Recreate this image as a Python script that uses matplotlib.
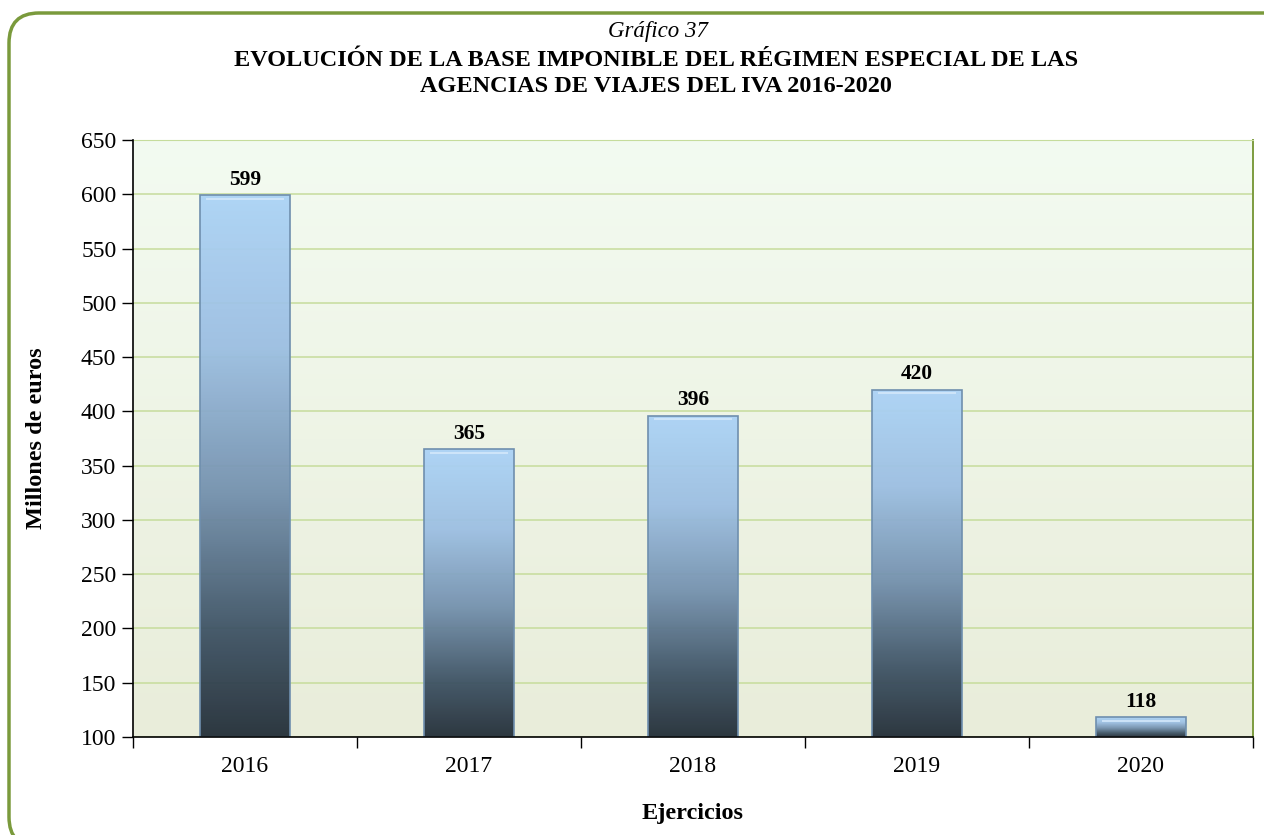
import matplotlib
matplotlib.use("Agg")
import matplotlib.pyplot as plt
import numpy as np
from matplotlib.colors import LinearSegmentedColormap
from matplotlib.patches import FancyBboxPatch

# datos del gráfico
years = ["2016", "2017", "2018", "2019", "2020"]
base = [599, 365, 396, 420, 118]

plt.rcParams['font.family'] = ['Liberation Serif', 'DejaVu Serif']

fig = plt.figure(figsize=(12.64, 8.35), dpi=100)
ax = fig.add_axes([133 / 1264, 98 / 835, 1120 / 1264, 597 / 835])

ymin, ymax = 100, 650
x = np.arange(len(years))

# fondo del area de trazado (degradado verde claro)
bg = LinearSegmentedColormap.from_list("bg", ["#e9edda", "#f3fbf1"])
grad = np.linspace(0, 1, 256).reshape(-1, 1)
ax.imshow(grad, cmap=bg, aspect="auto", origin="lower",
          extent=[-0.5, len(years) - 0.5, ymin, ymax], zorder=0)

# barras con degradado vertical
barcm = LinearSegmentedColormap.from_list(
    "bar", [(0.0, "#232e38"), (0.2, "#3f5466"), (0.45, "#7491ae"),
            (0.72, "#9cbfe2"), (1.0, "#acd3f6")])
bars = ax.bar(x, np.array(base) - ymin, width=0.4, bottom=ymin,
              color="none", edgecolor="#6f8fae", linewidth=1.2, zorder=3)
for b in bars:
    bx, by = b.get_x(), b.get_y()
    bw, bh = b.get_width(), b.get_height()
    im = ax.imshow(grad, cmap=barcm, aspect="auto", origin="lower",
                   extent=[bx, bx + bw, by, by + bh], zorder=2, alpha=0.95)
    im.set_clip_path(b)
    # brillo del bisel superior
    ax.plot([bx + bw * 0.06, bx + bw * 0.94], [by + bh - 3, by + bh - 3],
            color="#d4e8fb", lw=1.2, zorder=4, solid_capstyle="butt")

for xi, v in zip(x, base):
    ax.annotate(str(v), (xi, v), xytext=(0, 4), textcoords="offset points",
                ha="center", va="bottom", fontsize=15.5, fontweight="bold")

ax.set_xlim(-0.5, len(years) - 0.5)
ax.set_ylim(ymin, ymax)
ax.set_yticks(np.arange(100, 651, 50))
ax.yaxis.grid(True, color="#c6dc9c", lw=1.1, zorder=1)
ax.set_axisbelow(True)

ax.set_xticks(x)
ax.set_xticklabels(years)
ax.set_xticks(np.arange(-0.5, len(years), 1), minor=True)
ax.tick_params(axis="x", which="major", length=0, pad=14, labelsize=17)
ax.tick_params(axis="x", which="minor", length=8, width=1, color="black")
ax.tick_params(axis="y", length=8, width=1, labelsize=17, pad=4)

for s in ["left", "bottom"]:
    ax.spines[s].set_color("black")
    ax.spines[s].set_linewidth(1.2)
    ax.spines[s].set_zorder(5)
ax.spines["top"].set_color("#c6dc9c")
ax.spines["right"].set_color("#7d9c3f")
ax.spines["right"].set_linewidth(1.4)

fig.text(0.5 * (133 + 1253) / 1264, 1 - 813 / 835, "Ejercicios", ha="center",
         va="center", fontsize=17.5, fontweight="bold")
fig.text(37 / 1264, 1 - (140 + 737) / 2 / 835, "Millones de euros", ha="center",
         va="center", rotation=90, fontsize=17.5, fontweight="bold")

# titulos
fig.text(658 / 1264, 1 - 31 / 835, "Gráfico 37", ha="center", va="center",
         fontsize=16.5, style="italic")
fig.text(656 / 1264, 1 - 60 / 835,
         "EVOLUCIÓN DE LA BASE IMPONIBLE DEL RÉGIMEN ESPECIAL DE LAS",
         ha="center", va="center", fontsize=17.5, fontweight="bold")
fig.text(656 / 1264, 1 - 86 / 835,
         "AGENCIAS DE VIAJES DEL IVA 2016-2020",
         ha="center", va="center", fontsize=17.5, fontweight="bold")

# marco redondeado (en pulgadas para que las esquinas sean circulares)
frame = FancyBboxPatch((0.09, -0.12), 12.95, 8.34,
                       boxstyle="round,pad=0,rounding_size=0.3",
                       transform=fig.dpi_scale_trans, fill=False,
                       edgecolor="#7a9a3c", linewidth=2.5, clip_on=False)
fig.patches.append(frame)

fig.savefig("out.png", dpi=100)
